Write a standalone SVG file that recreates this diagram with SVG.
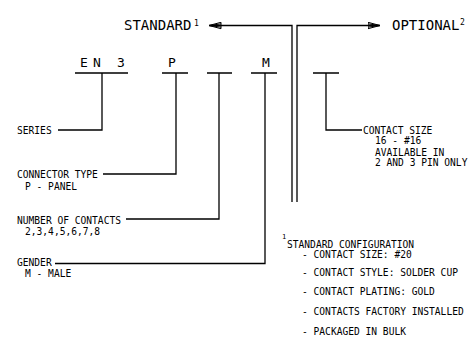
<svg xmlns="http://www.w3.org/2000/svg" width="474" height="360" viewBox="0 0 474 360">
<style>
text{font-family:"DejaVu Sans Mono","Liberation Mono",monospace;fill:#000}
.t{font-size:14px}
.c{font-size:13px}
.s{font-size:9.6px}
.sup{font-size:8px}
.ln{fill:none;stroke:#000;stroke-width:1.3}
</style>
<defs>
<marker id="ah" viewBox="0 0 13 8" refX="12.5" refY="4" markerWidth="13" markerHeight="8" markerUnits="userSpaceOnUse" orient="auto">
<path d="M0.5,0.8 L12.5,4 L0.5,7.2 Z M0.5,2.4 L12.5,4 L0.5,5.6" fill="none" stroke="#000" stroke-width="1"/>
</marker>
</defs>
<g id="connectors">
<path class="ln" d="M292,202 V25.5 H209" marker-end="url(#ah)"/>
<path class="ln" d="M297,202 V25.5 H380" marker-end="url(#ah)"/>
<path class="ln" d="M75,73 H128 M102,73 V130 H58"/>
<path class="ln" d="M162,73 H188 M176,73 V174 H103"/>
<path class="ln" d="M207,73 H232 M219,73 V219 H126"/>
<path class="ln" d="M251,73 H277 M265,73 V263.5 H55"/>
<path class="ln" d="M313,73 H339 M326,73 V130 H362"/>
</g>
<g id="standard">
<text class="t" x="124" y="30">STANDARD</text>
<text class="sup" x="194" y="25.5">1</text>
</g>
<g id="optional">
<text class="t" x="392" y="30">OPTIONAL</text>
<text class="sup" x="460" y="24.5">2</text>
</g>
<g id="code-en3"><text class="c" x="80 86 93 105 117" y="66.5">E N 3</text></g>
<g id="code-p"><text class="c" x="168" y="66.5">P</text></g>
<g id="code-m"><text class="c" x="262" y="66.5">M</text></g>
<g id="series"><text class="s" x="17" y="134">SERIES</text></g>
<g id="connector-type">
<text class="s" x="17" y="178">CONNECTOR TYPE</text>
<text class="s" x="25" y="189.5">P - PANEL</text>
</g>
<g id="number-of-contacts">
<text class="s" x="17" y="224">NUMBER OF CONTACTS</text>
<text class="s" x="25" y="235">2,3,4,5,6,7,8</text>
</g>
<g id="gender">
<text class="s" x="17" y="266">GENDER</text>
<text class="s" x="25" y="277">M - MALE</text>
</g>
<g id="contact-size">
<text class="s" x="363" y="133.5">CONTACT SIZE</text>
<text class="s" x="375" y="144">16 - #16</text>
<text class="s" x="375" y="155.5">AVAILABLE IN</text>
<text class="s" x="375" y="166">2 AND 3 PIN ONLY</text>
</g>
<g id="footnote">
<text class="sup" x="282" y="239" style="font-size:7px">1</text>
<text class="s" x="287" y="247.5">STANDARD CONFIGURATION</text>
<text class="s" x="302" y="257.5">- CONTACT SIZE: #20</text>
<text class="s" x="302" y="275.5">- CONTACT STYLE: SOLDER CUP</text>
<text class="s" x="302" y="295">- CONTACT PLATING: GOLD</text>
<text class="s" x="302" y="315">- CONTACTS FACTORY INSTALLED</text>
<text class="s" x="302" y="335">- PACKAGED IN BULK</text>
</g>
</svg>
